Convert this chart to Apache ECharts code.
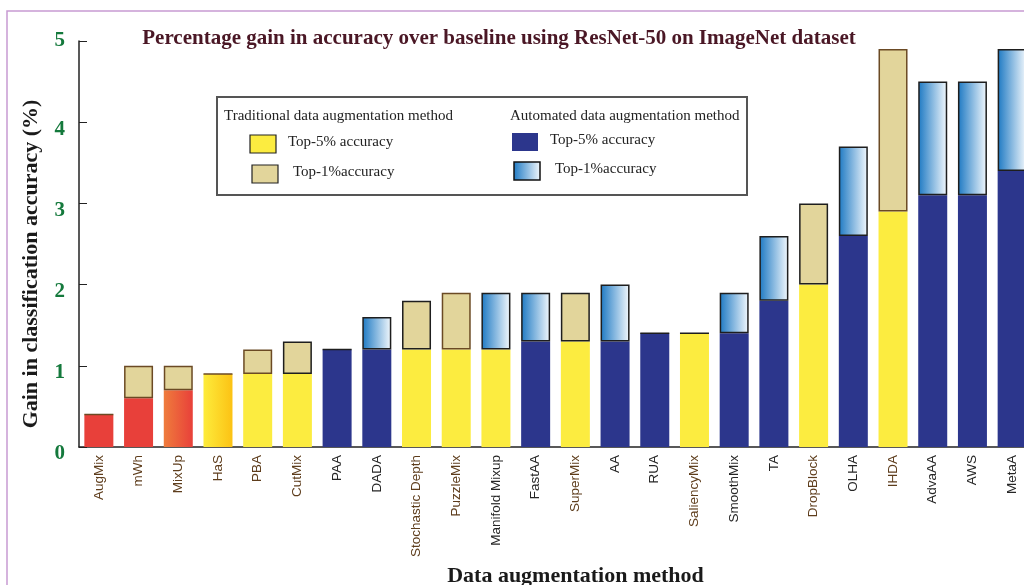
<!DOCTYPE html>
<html>
<head>
<meta charset="utf-8">
<script src="https://cdn.jsdelivr.net/npm/echarts@6/dist/echarts.min.js"></script>
<style>
  html, body { margin: 0; padding: 0; background: #fff; }
  #chart { width: 1024px; height: 585px; }
</style>
</head>
<body>
<div id="chart"></div>
<script>
// methods, sorted by top-1 gain
const categories = ['AugMix', 'mWh', 'MixUp', 'HaS', 'PBA', 'CutMix', 'PAA', 'DADA', 'Stochastic Depth',
    'PuzzleMix', 'Manifold Mixup', 'FastAA', 'SuperMix', 'AA', 'RUA', 'SaliencyMix', 'SmoothMix', 'TA',
    'DropBlock', 'OLHA', 'IHDA', 'AdvaAA', 'AWS', 'MetaA']
// gain (%)
const top5Gain = [0.4, 0.6, 0.7, 0.9, 0.9, 0.9, 1.2, 1.2, 1.2, 1.2, 1.2, 1.3, 1.3, 1.3, 1.4, 1.4, 1.4, 1.8, 2.0, 2.6, 2.9, 3.1, 3.1, 3.4]
const top1Gain = [0.4, 1.0, 1.0, 0.9, 1.2, 1.3, 1.2, 1.6, 1.8, 1.9, 1.9, 1.9, 1.9, 2.0, 1.4, 1.4, 1.9, 2.6, 3.0, 3.7, 4.9, 4.5, 4.5, 4.9]
// T = traditional, A = automated
const baseType = ['T', 'T', 'T', 'T', 'T', 'T', 'A', 'A', 'T', 'T', 'T', 'A', 'T', 'A', 'A', 'T', 'A', 'A', 'T', 'A', 'T', 'A', 'A', 'A']
const methodType = ['T', 'T', 'T', 'T', 'T', 'T', 'A', 'A', 'T', 'T', 'A', 'A', 'T', 'A', 'A', 'T', 'A', 'A', 'T', 'A', 'T', 'A', 'A', 'A']
const yTicks = [0, 1, 2, 3, 4, 5]

const YELLOW = '#fcec40'
const TAN = '#e2d59b'
const NAVY = '#2c368c'
const RED = '#e8403a'
const blueFade = () => new echarts.graphic.LinearGradient(0, 0, 1, 0, [
    { offset: 0, color: '#1d79c3' }, { offset: 1, color: '#f4f9fd' }])

// a few bars have their own fill
const specialBase = {
    'AugMix': RED,
    'mWh': RED,
    'MixUp': new echarts.graphic.LinearGradient(0, 0, 1, 0, [
        { offset: 0, color: '#ef7c3c' }, { offset: 1, color: '#e8403a' }]),
    'HaS': new echarts.graphic.LinearGradient(0, 0, 1, 0, [
        { offset: 0, color: '#fdec3c' }, { offset: 1, color: '#fcc214' }])
}
const brownEdge = ['AugMix', 'mWh', 'MixUp', 'HaS', 'PBA', 'PuzzleMix', 'IHDA']

let chart = echarts.init(document.getElementById('chart'))

let baseData = categories.map((c, i) => ({
    value: top5Gain[i],
    itemStyle: { color: specialBase[c] || (baseType[i] === 'T' ? YELLOW : NAVY) }
}))
let extraData = categories.map((c, i) => {
    let trad = methodType[i] === 'T'
    return {
        value: +(top1Gain[i] - top5Gain[i]).toFixed(2),
        itemStyle: {
            color: trad ? TAN : blueFade(),
            borderColor: brownEdge.indexOf(c) >= 0 ? '#6b4a24' : '#1e1e1e',
            borderWidth: 1.5
        }
    }
})

function legendRow(x, y, swatch, text, dx) {
    return [
        { type: 'rect', shape: { x: x, y: y, width: 26, height: 18 }, style: swatch },
        { type: 'text', x: x + dx, y: y, style: { text: text, font: '15px "Liberation Serif"', fill: '#222' } }
    ]
}

chart.setOption({
    animation: false,
    title: {
        text: 'Percentage gain in accuracy over baseline using ResNet-50 on ImageNet dataset',
        left: 494,
        textAlign: 'center',
        top: 23,
        textStyle: { fontFamily: 'Liberation Serif', fontWeight: 'bold', fontSize: 21, color: '#4a1725' }
    },
    grid: { left: 79, top: 41, width: 953, bottom: 138, outerBoundsMode: 'none', containLabel: false },
    xAxis: {
        type: 'category',
        data: categories,
        name: 'Data augmentation method',
        nameLocation: 'middle',
        nameGap: 114,
        nameTextStyle: { fontFamily: 'Liberation Serif', fontWeight: 'bold', fontSize: 22, color: '#1a1a1a', padding: [0, 0, 0, 40] },
        axisLine: { lineStyle: { color: '#222', width: 1.5 } },
        axisTick: { show: false },
        axisLabel: {
            rotate: 90,
            interval: 0,
            margin: 8,
            fontFamily: 'Liberation Sans',
            fontSize: 13.5,
            color: (v) => methodType[categories.indexOf(v)] === 'T' ? '#5e3d1c' : '#262626'
        }
    },
    yAxis: {
        type: 'value',
        min: yTicks[0],
        max: yTicks[yTicks.length - 1],
        interval: 1,
        name: 'Gain in classification accuracy (%)',
        nameLocation: 'middle',
        nameGap: 37,
        nameTextStyle: { fontFamily: 'Liberation Serif', fontWeight: 'bold', fontSize: 22, color: '#1a1a1a', padding: [0, 0, 0, -40] },
        axisLine: { show: true, lineStyle: { color: '#222', width: 1.5 } },
        axisTick: { show: true, inside: true, length: 8, lineStyle: { color: '#222' } },
        splitLine: { show: false },
        axisLabel: {
            margin: 14,
            // the lower labels sit a little under their ticks
            formatter: (v) => v < yTicks[yTicks.length - 1] ? '{low|' + v + '}' : '{top|' + v + '}',
            rich: {
                low: { fontFamily: 'Liberation Serif', fontWeight: 'bold', fontSize: 21, color: '#14793c', padding: [14, 0, 0, 0] },
                top: { fontFamily: 'Liberation Serif', fontWeight: 'bold', fontSize: 21, color: '#14793c' }
            }
        }
    },
    series: [
        { name: 'Top-5% accuracy', type: 'bar', stack: 'gain', barWidth: 29, data: baseData },
        { name: 'Top-1% accuracy', type: 'bar', stack: 'gain', barWidth: 29, data: extraData }
    ],
    graphic: [
        // outer frame
        { type: 'rect', shape: { x: 7, y: 11, width: 1100, height: 700 }, style: { fill: 'none', stroke: '#c79bd2', lineWidth: 1.5 }, silent: true },
        // legend box
        {
            type: 'group',
            children: [
                { type: 'rect', shape: { x: 217, y: 97, width: 530, height: 98 }, style: { fill: '#fff', stroke: '#555', lineWidth: 2 } },
                { type: 'text', x: 224, y: 109, style: { text: 'Traditional data augmentation method', font: '15px "Liberation Serif"', fill: '#222' } },
                { type: 'text', x: 510, y: 109, style: { text: 'Automated data augmentation method', font: '15px "Liberation Serif"', fill: '#222' } }
            ].concat(
                legendRow(250, 135, { fill: YELLOW, stroke: '#222', lineWidth: 1.2 }, 'Top-5% accuracy', 38),
                legendRow(252, 165, { fill: TAN, stroke: '#222', lineWidth: 1.2 }, 'Top-1%accuracy', 41),
                legendRow(512, 133, { fill: NAVY }, 'Top-5% accuracy', 38),
                legendRow(514, 162, { fill: blueFade(), stroke: '#111', lineWidth: 1.5 }, 'Top-1%accuracy', 41)
            )
        }
    ]
})
</script>
</body>
</html>
